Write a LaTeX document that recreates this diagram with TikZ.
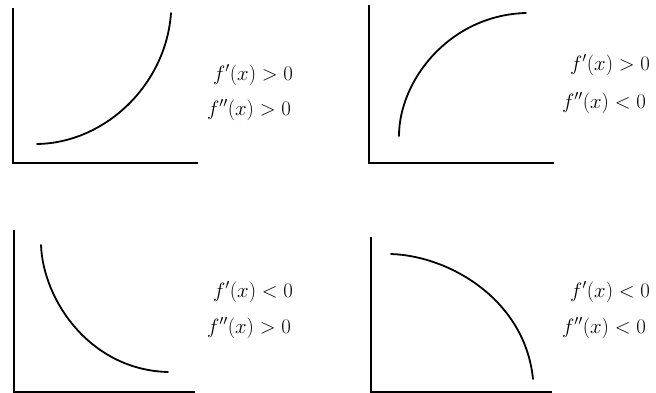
\documentclass[tikz,border=0pt]{standalone}
\usepackage{amsmath,amssymb}
\usepackage{tikz}
\usetikzlibrary{calc,positioning}
\tikzset{
  ejes/.style={line width=2.6pt,black},
  curva/.style={line width=1.8pt,black,line cap=round},
  etiq/.style={anchor=west,inner sep=0pt,font=\fontsize{19.5}{22}\selectfont}
}

\begin{document}
\begin{tikzpicture}[x=1pt,y=-1pt]
\useasboundingbox (0,0) rectangle (656,393);
% axes
\foreach \xo/\yo/\ya/\xb in {13/163/8/198,369/163/5/554,14/392/230/195,371/392/237/552}{\draw[ejes] (\xo,\ya) |- (\xb,\yo);}
% curves
\draw[curva] (37,144) .. controls (105,143) and (166,85) .. (171,13);
\draw[curva] (399,136) .. controls (399,80) and (450,15) .. (526,13);
\draw[curva] (41,245) .. controls (43,300) and (90,370) .. (168,372);
\draw[curva] (391,254) .. controls (450,256) and (525,300) .. (533,379);
% labels
\node[etiq] (a1) at (213,75) {$f'(x)>0$};  \node[etiq] (a2) at (207,110) {$f''(x)>0$};
\node[etiq] (b1) at (570,65) {$f'(x)>0$};  \node[etiq] (b2) at (562,103) {$f''(x)<0$};
\node[etiq] (c1) at (213,292) {$f'(x)<0$}; \node[etiq] (c2) at (207,328) {$f''(x)>0$};
\node[etiq] (d1) at (570,292) {$f'(x)<0$}; \node[etiq] (d2) at (562,328) {$f''(x)<0$};
\end{tikzpicture}
\end{document}
